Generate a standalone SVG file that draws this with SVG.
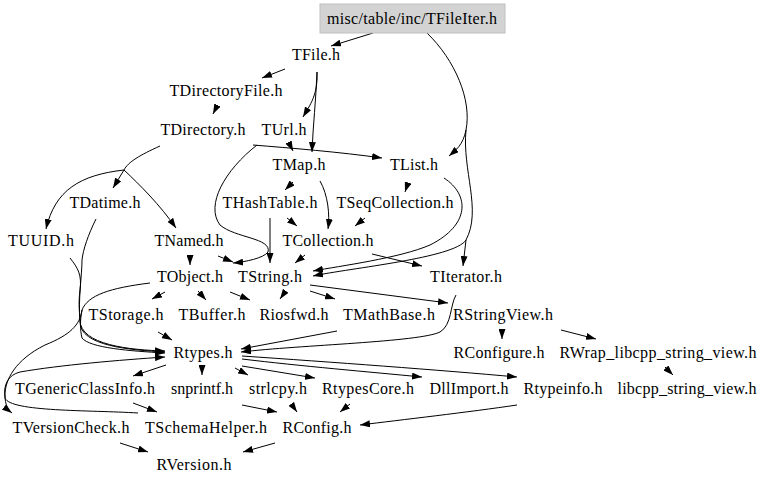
<svg xmlns="http://www.w3.org/2000/svg" width="768" height="484" viewBox="0 0 768 484">
<style>
text{font-family:"Liberation Serif","Times New Roman",serif;font-size:16px;fill:#000;text-anchor:middle}
.e path{fill:none;stroke:#000;stroke-width:1;marker-end:url(#a)}
</style>
<defs>
<marker id="a" viewBox="0 0 10 7" refX="10" refY="3.5" markerWidth="10" markerHeight="7" orient="auto" markerUnits="userSpaceOnUse"><path d="M0,0 L10,3.5 L0,7 z" fill="#000"/></marker>
</defs>
<rect width="768" height="484" fill="#fff"/>
<g class="e" id="edges">
<path d="M373,33 L331,46"/>
<path d="M427,33 C455,60 472,100 466,130 C463,145 456,150 449,156"/>
<path d="M466,130 C462,170 482,210 466,240 L463,266"/>
<path d="M466,240 C455,258 350,268 313,276"/>
<path d="M444,178 C470,195 470,225 430,245 C400,258 340,266 313,271"/>
<path d="M372,254 L422,266"/>
<path d="M285,69 L262,78"/>
<path d="M317,72 C318,95 310,105 303,117"/>
<path d="M317,72 C316,100 313,125 312,152"/>
<path d="M217,106 L213,114"/>
<path d="M160,146 C140,155 128,162 124,170 L113,188"/>
<path d="M124,170 C80,175 55,190 46,229"/>
<path d="M124,170 C140,185 160,205 176,228"/>
<path d="M253,145 C290,148 340,152 382,158"/>
<path d="M289,143 L293,151"/>
<path d="M257,145 C225,170 205,205 220,225 C235,238 272,238 268,252 C264,258 245,262 233,263"/>
<path d="M270,218 L270,263"/>
<path d="M218,256 L233,262"/>
<path d="M190,255 L190,265"/>
<path d="M305,255 L295,263"/>
<path d="M293,182 L285,190"/>
<path d="M320,181 C328,195 330,215 328,229"/>
<path d="M287,218 L297,226"/>
<path d="M365,218 L355,226"/>
<path d="M408,183 L405,192"/>
<path d="M96,219 C88,235 83,250 82,260 C82,275 78,300 80,320 C80,345 130,350 165,351"/>
<path d="M70,258 C78,268 82,275 80,290 C78,305 80,315 80,322 C80,346 130,350 165,352"/>
<path d="M150,283 C110,288 88,295 82,310 C80,320 80,330 82,338 C90,348 130,351 165,353"/>
<path d="M82,310 C80,325 70,335 45,345 C15,360 5,380 5,395 C5,405 8,410 12,413"/>
<path d="M138,413 C90,410 10,412 5,398 C3,385 8,375 20,372 C60,365 120,360 165,357"/>
<path d="M165,292 L152,299"/>
<path d="M198,291 L206,300"/>
<path d="M230,292 L250,300"/>
<path d="M285,292 L280,299"/>
<path d="M310,291 L335,299"/>
<path d="M310,285 L448,303"/>
<path d="M456,295 C450,305 452,325 440,332 C420,342 300,345 241,352"/>
<path d="M337,331 L241,349"/>
<path d="M158,332 L172,340"/>
<path d="M502,331 L502,339"/>
<path d="M561,330 L596,339"/>
<path d="M166,365 L133,376"/>
<path d="M202,368 L202,375"/>
<path d="M235,368 L248,375"/>
<path d="M242,366 L315,378"/>
<path d="M242,359 C300,366 370,372 422,377"/>
<path d="M242,356 C330,362 440,370 517,377"/>
<path d="M665,367 L673,375"/>
<path d="M133,403 L157,412"/>
<path d="M242,405 L277,412"/>
<path d="M292,405 L297,412"/>
<path d="M350,404 L340,412"/>
<path d="M517,405 C470,412 400,420 360,425"/>
<path d="M120,443 L148,452"/>
<path d="M275,443 L243,452"/>
</g>
<g id="n_TFileIter"><rect x="320" y="4" width="185" height="29" fill="#d3d3d3" stroke="#bfbfbf"/><text x="412" y="24" textLength="170" lengthAdjust="spacing">misc/table/inc/TFileIter.h</text></g>
<g id="n_TFile"><text x="316" y="60" textLength="48" lengthAdjust="spacing">TFile.h</text></g>
<g id="n_TDirectoryFile"><text x="226" y="96" textLength="113" lengthAdjust="spacing">TDirectoryFile.h</text></g>
<g id="n_TDirectory"><text x="203" y="135" textLength="85" lengthAdjust="spacing">TDirectory.h</text></g>
<g id="n_TUrl"><text x="284" y="135" textLength="45" lengthAdjust="spacing">TUrl.h</text></g>
<g id="n_TMap"><text x="299" y="170" textLength="53" lengthAdjust="spacing">TMap.h</text></g>
<g id="n_TList"><text x="414" y="170" textLength="48" lengthAdjust="spacing">TList.h</text></g>
<g id="n_TDatime"><text x="105" y="208" textLength="71" lengthAdjust="spacing">TDatime.h</text></g>
<g id="n_THashTable"><text x="270" y="208" textLength="95" lengthAdjust="spacing">THashTable.h</text></g>
<g id="n_TSeqCollection"><text x="395" y="208" textLength="117" lengthAdjust="spacing">TSeqCollection.h</text></g>
<g id="n_TUUID"><text x="41" y="246" textLength="66" lengthAdjust="spacing">TUUID.h</text></g>
<g id="n_TNamed"><text x="189" y="246" textLength="69" lengthAdjust="spacing">TNamed.h</text></g>
<g id="n_TCollection"><text x="328" y="246" textLength="91" lengthAdjust="spacing">TCollection.h</text></g>
<g id="n_TObject"><text x="190" y="282" textLength="66" lengthAdjust="spacing">TObject.h</text></g>
<g id="n_TString"><text x="270" y="282" textLength="64" lengthAdjust="spacing">TString.h</text></g>
<g id="n_TIterator"><text x="466" y="282" textLength="72" lengthAdjust="spacing">TIterator.h</text></g>
<g id="n_TStorage"><text x="126" y="320" textLength="75" lengthAdjust="spacing">TStorage.h</text></g>
<g id="n_TBuffer"><text x="212" y="320" textLength="67" lengthAdjust="spacing">TBuffer.h</text></g>
<g id="n_Riosfwd"><text x="294" y="320" textLength="69" lengthAdjust="spacing">Riosfwd.h</text></g>
<g id="n_TMathBase"><text x="389" y="320" textLength="92" lengthAdjust="spacing">TMathBase.h</text></g>
<g id="n_RStringView"><text x="503" y="320" textLength="100" lengthAdjust="spacing">RStringView.h</text></g>
<g id="n_Rtypes"><text x="203" y="358" textLength="59" lengthAdjust="spacing">Rtypes.h</text></g>
<g id="n_RConfigure"><text x="499" y="358" textLength="91" lengthAdjust="spacing">RConfigure.h</text></g>
<g id="n_RWrap"><text x="658" y="358" textLength="197" lengthAdjust="spacing">RWrap_libcpp_string_view.h</text></g>
<g id="n_TGenericClassInfo"><text x="85" y="394" textLength="140" lengthAdjust="spacing">TGenericClassInfo.h</text></g>
<g id="n_snprintf"><text x="202" y="394" textLength="62" lengthAdjust="spacing">snprintf.h</text></g>
<g id="n_strlcpy"><text x="278" y="394" textLength="58" lengthAdjust="spacing">strlcpy.h</text></g>
<g id="n_RtypesCore"><text x="368" y="394" textLength="92" lengthAdjust="spacing">RtypesCore.h</text></g>
<g id="n_DllImport"><text x="469" y="394" textLength="79" lengthAdjust="spacing">DllImport.h</text></g>
<g id="n_Rtypeinfo"><text x="563" y="394" textLength="79" lengthAdjust="spacing">Rtypeinfo.h</text></g>
<g id="n_libcpp"><text x="687" y="394" textLength="139" lengthAdjust="spacing">libcpp_string_view.h</text></g>
<g id="n_TVersionCheck"><text x="71" y="433" textLength="117" lengthAdjust="spacing">TVersionCheck.h</text></g>
<g id="n_TSchemaHelper"><text x="206" y="433" textLength="122" lengthAdjust="spacing">TSchemaHelper.h</text></g>
<g id="n_RConfig"><text x="317" y="433" textLength="69" lengthAdjust="spacing">RConfig.h</text></g>
<g id="n_RVersion"><text x="194" y="470" textLength="75" lengthAdjust="spacing">RVersion.h</text></g>
</svg>
